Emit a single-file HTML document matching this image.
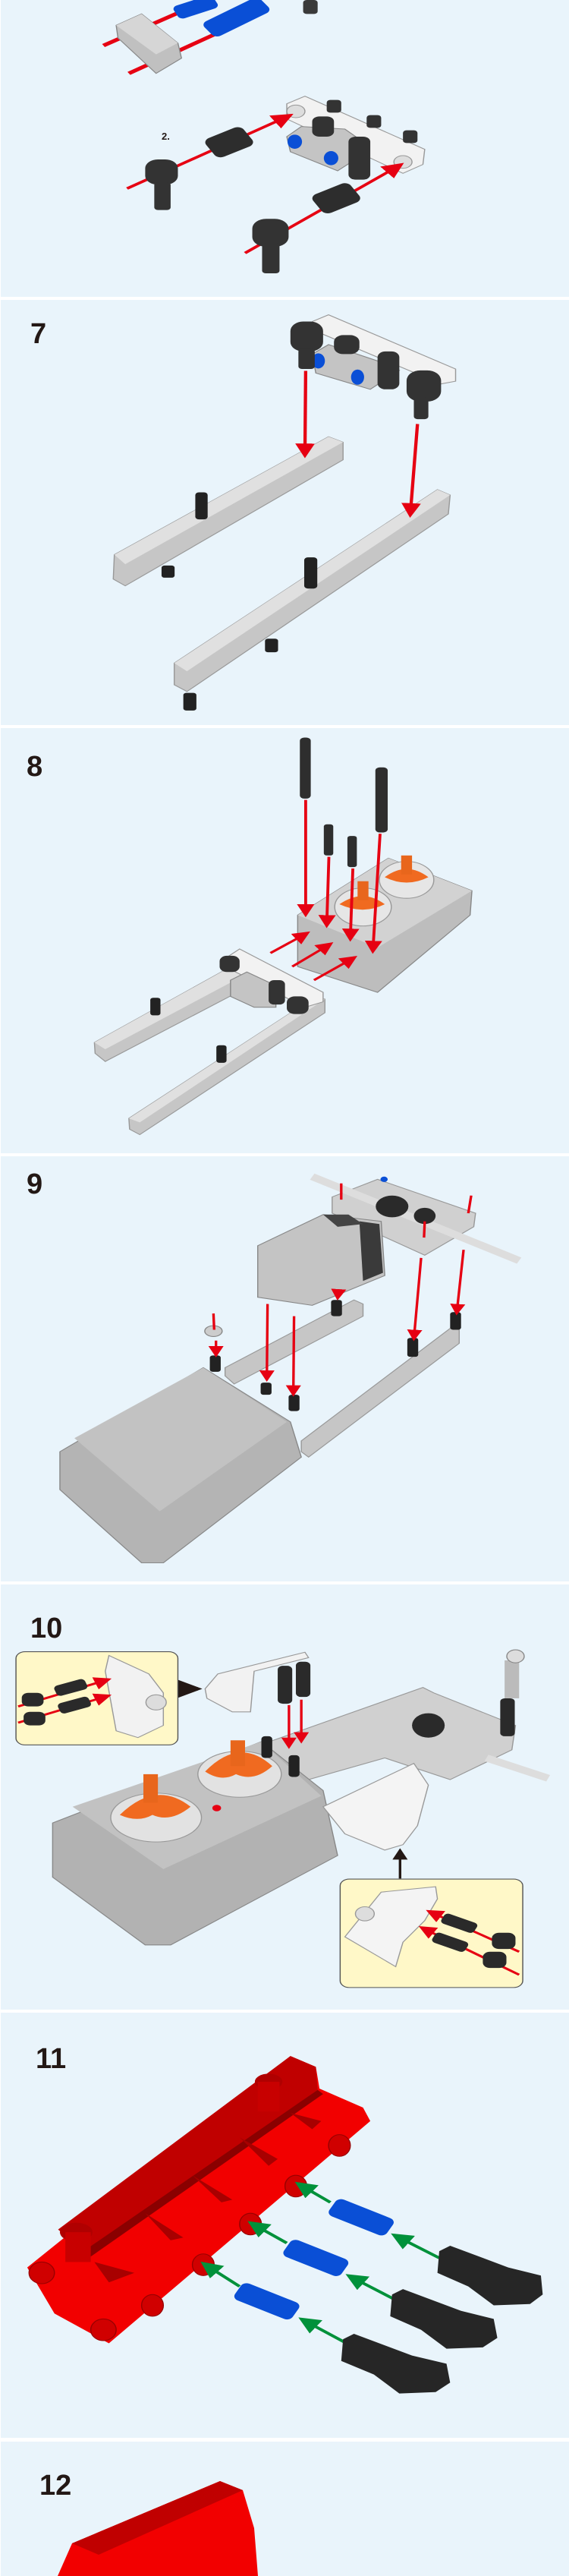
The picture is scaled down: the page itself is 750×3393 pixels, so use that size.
<!DOCTYPE html>
<html><head><meta charset="utf-8"><style>
html,body{margin:0;padding:0;background:#fff}
svg{display:block}
.n{font-family:"Liberation Sans",sans-serif;font-weight:bold;font-size:38px;fill:#231815}
</style></head><body>
<svg width="750" height="3393" viewBox="0 0 750 3393" xmlns="http://www.w3.org/2000/svg">
<defs>
<marker id="ar" markerWidth="6" markerHeight="6" refX="5" refY="3" orient="auto" markerUnits="strokeWidth"><path d="M0,0 L6,3 L0,6 z" fill="#e60012"/></marker>
<marker id="ag" markerWidth="6" markerHeight="6" refX="5" refY="3" orient="auto" markerUnits="strokeWidth"><path d="M0,0 L6,3 L0,6 z" fill="#00913a"/></marker>
<marker id="ak" markerWidth="6" markerHeight="6" refX="5" refY="3" orient="auto" markerUnits="strokeWidth"><path d="M0,0 L6,3 L0,6 z" fill="#231815"/></marker>
</defs>
<rect width="750" height="3393" fill="#fff"/>
<g fill="#e9f4fb">
<rect x="1" y="0" width="749" height="391"/>
<rect x="1" y="395" width="749" height="560"/>
<rect x="1" y="959" width="749" height="560"/>
<rect x="1" y="1523" width="749" height="560"/>
<rect x="1" y="2087" width="749" height="560"/>
<rect x="1" y="2651" width="749" height="560"/>
<rect x="1" y="3216" width="749" height="177"/>
</g>

<!-- Panel 1 -->
<g transform="translate(0,0) scale(0.4785,0.3333)">
<line x1="285" y1="180" x2="500" y2="45" stroke="#e60012" stroke-width="14"/>
<line x1="355" y1="290" x2="600" y2="130" stroke="#e60012" stroke-width="14"/>
<rect x="480" y="0" width="120" height="55" rx="15" fill="#0a4fd6" transform="rotate(-25 540 30)"/>
<rect x="565" y="30" width="190" height="70" rx="18" fill="#0a4fd6" transform="rotate(-35 660 80)"/>
<rect x="835" y="0" width="40" height="55" rx="10" fill="#3a3a3a"/>
<path d="M320,100 L390,55 L490,170 L500,230 L430,290 L325,150 z" fill="#c0c0c0" stroke="#888" stroke-width="3"/>
<path d="M320,100 L390,55 L490,170 L430,215 z" fill="#d6d6d6"/>
<path d="M790,410 L840,380 L1170,590 L1165,650 L1110,685 L790,470 z" fill="#f2f2f2" stroke="#999" stroke-width="3"/>
<circle cx="815" cy="440" r="25" fill="#ddd" stroke="#999" stroke-width="3"/>
<circle cx="1110" cy="640" r="25" fill="#ddd" stroke="#999" stroke-width="3"/>
<path d="M790,540 L830,500 L950,510 L1000,560 L990,620 L930,675 L800,600 z" fill="#c4c4c4" stroke="#888" stroke-width="3"/>
<ellipse cx="812" cy="560" rx="20" ry="28" fill="#0a4fd6"/>
<ellipse cx="912" cy="625" rx="20" ry="28" fill="#0a4fd6"/>
<rect x="960" y="540" width="60" height="170" rx="20" fill="#333"/>
<rect x="860" y="460" width="60" height="80" rx="20" fill="#333"/>
<rect x="900" y="395" width="40" height="50" rx="10" fill="#333"/>
<rect x="1010" y="455" width="40" height="50" rx="10" fill="#333"/>
<rect x="1110" y="515" width="40" height="50" rx="10" fill="#333"/>
<line x1="350" y1="745" x2="800" y2="455" stroke="#e60012" stroke-width="10" marker-end="url(#ar)"/>
<line x1="675" y1="1000" x2="1105" y2="650" stroke="#e60012" stroke-width="10" marker-end="url(#ar)"/>
<rect x="570" y="520" width="120" height="85" rx="20" fill="#2d2d2d" transform="rotate(-30 630 560)"/>
<rect x="870" y="740" width="120" height="85" rx="20" fill="#2d2d2d" transform="rotate(-30 930 790)"/>
<rect x="400" y="630" width="90" height="100" rx="35" fill="#333"/>
<rect x="425" y="720" width="45" height="110" rx="10" fill="#333"/>
<rect x="695" y="865" width="100" height="110" rx="38" fill="#333"/>
<rect x="722" y="960" width="48" height="120" rx="10" fill="#333"/>
</g>
<text x="213" y="184" style="font-family:'Liberation Sans',sans-serif;font-weight:bold;font-size:13px;fill:#231815">2.</text>

<!-- Panel 7 -->
<text class="n" x="40" y="452">7</text>
<g transform="translate(0,395) scale(0.4785,0.357)">
<path d="M315,940 L905,505 L945,525 L945,590 L345,1055 L312,1030 z" fill="#c6c6c6" stroke="#999" stroke-width="3"/>
<path d="M315,940 L905,505 L945,525 L345,975 z" fill="#e0e0e0"/>
<path d="M480,1340 L1205,700 L1240,720 L1235,790 L515,1445 L480,1420 z" fill="#c6c6c6" stroke="#999" stroke-width="3"/>
<path d="M480,1340 L1205,700 L1240,720 L515,1370 z" fill="#e0e0e0"/>
<rect x="538" y="710" width="34" height="100" rx="10" fill="#222"/>
<rect x="838" y="950" width="36" height="115" rx="10" fill="#222"/>
<rect x="445" y="980" width="36" height="45" rx="8" fill="#222"/>
<rect x="730" y="1250" width="36" height="50" rx="8" fill="#222"/>
<rect x="505" y="1450" width="36" height="65" rx="8" fill="#222"/>
<path d="M860,80 L905,55 L1255,255 L1255,300 L1215,310 L860,110 z" fill="#f2f2f2" stroke="#999" stroke-width="3"/>
<path d="M860,200 L905,165 L1040,225 L1100,260 L1020,330 L870,270 z" fill="#c4c4c4" stroke="#888" stroke-width="3"/>
<ellipse cx="877" cy="225" rx="18" ry="28" fill="#0a4fd6"/>
<ellipse cx="985" cy="285" rx="18" ry="28" fill="#0a4fd6"/>
<rect x="800" y="80" width="90" height="110" rx="35" fill="#333"/>
<rect x="822" y="180" width="45" height="75" rx="10" fill="#333"/>
<rect x="1120" y="260" width="95" height="115" rx="38" fill="#333"/>
<rect x="1140" y="360" width="40" height="80" rx="10" fill="#333"/>
<rect x="920" y="130" width="70" height="70" rx="25" fill="#333"/>
<rect x="1040" y="190" width="60" height="140" rx="22" fill="#333"/>
<line x1="842" y1="262" x2="840" y2="575" stroke="#e60012" stroke-width="9" marker-end="url(#ar)"/>
<line x1="1150" y1="458" x2="1130" y2="795" stroke="#e60012" stroke-width="9" marker-end="url(#ar)"/>
</g>

<!-- Panel 8 -->
<text class="n" x="35" y="1022">8</text>
<g transform="translate(0,959) scale(0.4785,0.357)">
<path d="M260,1160 L650,870 L690,900 L690,950 L290,1230 L262,1200 z" fill="#c6c6c6" stroke="#999" stroke-width="3"/>
<path d="M260,1160 L650,870 L690,900 L290,1185 z" fill="#e0e0e0"/>
<path d="M355,1440 L870,990 L895,1000 L895,1050 L385,1500 L357,1480 z" fill="#c6c6c6" stroke="#999" stroke-width="3"/>
<path d="M355,1440 L870,990 L895,1000 L385,1455 z" fill="#e0e0e0"/>
<path d="M820,690 L1070,480 L1300,600 L1295,690 L1040,975 L820,880 z" fill="#bdbdbd" stroke="#888" stroke-width="3"/>
<path d="M820,690 L1070,480 L1300,600 L1040,810 z" fill="#d2d2d2"/>
<ellipse cx="1000" cy="660" rx="78" ry="70" fill="#e6e6e6" stroke="#999" stroke-width="3"/>
<path d="M935,650 Q1000,590 1060,650 Q1000,690 935,650 z" fill="#f06a20"/>
<ellipse cx="1120" cy="560" rx="75" ry="68" fill="#e6e6e6" stroke="#999" stroke-width="3"/>
<path d="M1060,550 Q1120,490 1180,550 Q1120,590 1060,550 z" fill="#f06a20"/>
<rect x="985" y="565" width="30" height="70" fill="#e8661c"/>
<rect x="1105" y="470" width="30" height="70" fill="#e8661c"/>
<path d="M620,850 L660,815 L890,975 L890,1010 L840,1030 L620,880 z" fill="#f2f2f2" stroke="#999" stroke-width="3"/>
<path d="M635,930 L680,900 L760,950 L760,1030 L700,1030 L635,990 z" fill="#c4c4c4" stroke="#888" stroke-width="3"/>
<rect x="605" y="840" width="55" height="60" rx="20" fill="#333"/>
<rect x="790" y="990" width="60" height="65" rx="22" fill="#333"/>
<rect x="740" y="930" width="45" height="90" rx="15" fill="#333"/>
<rect x="826" y="35" width="30" height="225" rx="12" fill="#2e2e2e"/>
<rect x="1034" y="145" width="34" height="240" rx="12" fill="#2e2e2e"/>
<rect x="892" y="355" width="26" height="115" rx="8" fill="#2e2e2e"/>
<rect x="957" y="398" width="26" height="115" rx="8" fill="#2e2e2e"/>
<rect x="414" y="995" width="28" height="65" rx="8" fill="#222"/>
<rect x="596" y="1170" width="28" height="65" rx="8" fill="#222"/>
<line x1="842" y1="265" x2="842" y2="690" stroke="#e60012" stroke-width="8" marker-end="url(#ar)"/>
<line x1="906" y1="475" x2="900" y2="730" stroke="#e60012" stroke-width="8" marker-end="url(#ar)"/>
<line x1="972" y1="518" x2="965" y2="780" stroke="#e60012" stroke-width="8" marker-end="url(#ar)"/>
<line x1="1047" y1="390" x2="1027" y2="825" stroke="#e60012" stroke-width="8" marker-end="url(#ar)"/>
<line x1="745" y1="830" x2="848" y2="755" stroke="#e60012" stroke-width="8" marker-end="url(#ar)"/>
<line x1="805" y1="880" x2="912" y2="795" stroke="#e60012" stroke-width="8" marker-end="url(#ar)"/>
<line x1="865" y1="930" x2="978" y2="845" stroke="#e60012" stroke-width="8" marker-end="url(#ar)"/>
</g>

<!-- Panel 9 -->
<text class="n" x="35" y="1572">9</text>
<g transform="translate(0,1523) scale(0.4785,0.357)">
<path d="M620,780 L975,530 L1000,545 L1000,590 L645,840 L620,810 z" fill="#c6c6c6" stroke="#999" stroke-width="3"/>
<path d="M830,1050 L1245,630 L1265,640 L1265,690 L850,1110 L830,1090 z" fill="#c6c6c6" stroke="#999" stroke-width="3"/>
<path d="M165,1090 L560,780 L800,980 L830,1110 L450,1500 L390,1500 L165,1230 z" fill="#b4b4b4" stroke="#888" stroke-width="3"/>
<path d="M205,1040 L560,780 L790,980 L440,1310 z" fill="#c2c2c2"/>
<path d="M915,150 L1040,85 L1310,210 L1305,260 L1170,365 L915,210 z" fill="#d0d0d0" stroke="#999" stroke-width="3"/>
<line x1="860" y1="75" x2="1430" y2="385" stroke="#ddd" stroke-width="26"/>
<path d="M710,330 L890,215 L1050,240 L1060,440 L860,550 L710,520 z" fill="#c4c4c4" stroke="#888" stroke-width="3"/>
<path d="M990,240 L1045,250 L1055,430 L1000,460 z" fill="#3a3a3a"/>
<path d="M890,215 L960,215 L1000,250 L930,260 z" fill="#444"/>
<ellipse cx="1080" cy="185" rx="45" ry="40" fill="#2a2a2a"/>
<ellipse cx="1170" cy="220" rx="30" ry="30" fill="#2a2a2a"/>
<circle cx="1058" cy="85" r="10" fill="#0a4fd6"/>
<rect x="578" y="735" width="30" height="60" rx="8" fill="#222"/>
<rect x="718" y="835" width="30" height="45" rx="8" fill="#222"/>
<rect x="795" y="880" width="30" height="60" rx="8" fill="#222"/>
<rect x="912" y="530" width="30" height="60" rx="8" fill="#222"/>
<rect x="1122" y="670" width="30" height="70" rx="8" fill="#222"/>
<rect x="1240" y="575" width="30" height="65" rx="8" fill="#222"/>
<ellipse cx="588" cy="645" rx="24" ry="20" fill="#ccc" stroke="#888" stroke-width="3"/>
<g stroke="#e60012" stroke-width="7">
<line x1="588" y1="580" x2="590" y2="640"/>
<line x1="595" y1="680" x2="595" y2="735" marker-end="url(#ar)"/>
<line x1="737" y1="545" x2="735" y2="825" marker-end="url(#ar)"/>
<line x1="810" y1="590" x2="808" y2="880" marker-end="url(#ar)"/>
<line x1="1160" y1="375" x2="1140" y2="675" marker-end="url(#ar)"/>
<line x1="1277" y1="345" x2="1258" y2="580" marker-end="url(#ar)"/>
<line x1="940" y1="100" x2="940" y2="160"/>
<line x1="1298" y1="145" x2="1290" y2="210"/>
<line x1="1170" y1="240" x2="1168" y2="300"/>
<line x1="932" y1="500" x2="930" y2="525" marker-end="url(#ar)"/>
</g>
</g>

<!-- Panel 10 -->
<text class="n" x="40" y="2157">10</text>
<g transform="translate(0,2087) scale(0.4785,0.357)">
<path d="M700,600 L1165,380 L1195,400 L1420,520 L1410,610 L1240,720 L1060,640 L850,720 z" fill="#d0d0d0" stroke="#999" stroke-width="3"/>
<line x1="1340" y1="640" x2="1510" y2="715" stroke="#ddd" stroke-width="26"/>
<rect x="1390" y="280" width="40" height="140" fill="#bbb"/>
<rect x="1378" y="420" width="40" height="140" rx="12" fill="#2a2a2a"/>
<circle cx="1420" cy="265" r="24" fill="#ddd" stroke="#888" stroke-width="3"/>
<ellipse cx="1180" cy="520" rx="45" ry="45" fill="#2a2a2a"/>
<path d="M145,880 L720,580 L890,760 L930,1000 L470,1330 L400,1330 L145,1080 z" fill="#b2b2b2" stroke="#888" stroke-width="3"/>
<path d="M200,820 L720,580 L885,780 L450,1050 z" fill="#c2c2c2"/>
<ellipse cx="430" cy="860" rx="125" ry="90" fill="#e2e2e2" stroke="#999" stroke-width="3"/>
<path d="M330,850 Q430,720 525,820 Q470,880 420,850 Q380,880 330,850 z" fill="#f06a20"/>
<ellipse cx="660" cy="700" rx="115" ry="85" fill="#e2e2e2" stroke="#999" stroke-width="3"/>
<path d="M565,690 Q660,560 750,670 Q700,730 650,700 Q610,730 565,690 z" fill="#f06a20"/>
<rect x="635" y="575" width="40" height="95" fill="#e8661c"/>
<rect x="395" y="700" width="40" height="105" fill="#e8661c"/>
<circle cx="597" cy="825" r="12" fill="#e60012"/>
<path d="M890,820 L1140,660 L1180,740 L1150,890 L1110,960 L1060,980 L950,920 z" fill="#f4f4f4" stroke="#999" stroke-width="3"/>
<path d="M565,385 L600,330 L840,250 L850,270 L700,320 L690,470 L640,470 L570,420 z" fill="#f2f2f2" stroke="#999" stroke-width="3"/>
<rect x="765" y="300" width="40" height="140" rx="14" fill="#2a2a2a"/>
<rect x="815" y="285" width="40" height="130" rx="14" fill="#2a2a2a"/>
<rect x="720" y="560" width="30" height="80" rx="10" fill="#222"/>
<rect x="795" y="630" width="30" height="80" rx="10" fill="#222"/>
<line x1="796" y1="445" x2="796" y2="600" stroke="#e60012" stroke-width="7" marker-end="url(#ar)"/>
<line x1="830" y1="425" x2="830" y2="580" stroke="#e60012" stroke-width="7" marker-end="url(#ar)"/>
<line x1="495" y1="385" x2="545" y2="385" stroke="#231815" stroke-width="12" marker-end="url(#ak)"/>
<line x1="1102" y1="1085" x2="1102" y2="980" stroke="#231815" stroke-width="7" marker-end="url(#ak)"/>
<rect x="44" y="248" width="446" height="344" rx="25" fill="#fff8c8" stroke="#555" stroke-width="3"/>
<path d="M290,320 L300,262 L410,330 L450,400 L450,520 L380,565 L320,540 z" fill="#f2f2f2" stroke="#999" stroke-width="3"/>
<circle cx="430" cy="435" r="28" fill="#ddd" stroke="#999" stroke-width="3"/>
<line x1="50" y1="450" x2="300" y2="350" stroke="#e60012" stroke-width="8" marker-end="url(#ar)"/>
<line x1="50" y1="510" x2="300" y2="410" stroke="#e60012" stroke-width="8" marker-end="url(#ar)"/>
<rect x="150" y="360" width="90" height="40" rx="12" fill="#2a2a2a" transform="rotate(-20 195 380)"/>
<rect x="160" y="425" width="90" height="40" rx="12" fill="#2a2a2a" transform="rotate(-20 205 445)"/>
<rect x="60" y="400" width="60" height="50" rx="18" fill="#2a2a2a"/>
<rect x="65" y="470" width="60" height="50" rx="18" fill="#2a2a2a"/>
<rect x="937" y="1087" width="503" height="400" rx="25" fill="#fff8c8" stroke="#555" stroke-width="3"/>
<path d="M950,1300 L1050,1135 L1200,1115 L1205,1160 L1170,1240 L1110,1320 L1090,1410 z" fill="#f4f4f4" stroke="#999" stroke-width="3"/>
<circle cx="1005" cy="1215" r="26" fill="#ddd" stroke="#999" stroke-width="3"/>
<line x1="1430" y1="1355" x2="1180" y2="1205" stroke="#e60012" stroke-width="8" marker-end="url(#ar)"/>
<line x1="1430" y1="1440" x2="1160" y2="1265" stroke="#e60012" stroke-width="8" marker-end="url(#ar)"/>
<rect x="1215" y="1230" width="100" height="40" rx="12" fill="#2a2a2a" transform="rotate(25 1265 1250)"/>
<rect x="1190" y="1300" width="100" height="40" rx="12" fill="#2a2a2a" transform="rotate(25 1240 1320)"/>
<rect x="1355" y="1285" width="65" height="60" rx="20" fill="#2a2a2a"/>
<rect x="1330" y="1355" width="65" height="60" rx="20" fill="#2a2a2a"/>
</g>

<!-- Panel 11 -->
<text class="n" x="47" y="2724">11</text>
<g transform="translate(0,2651) scale(0.4785,0.357)">
<path d="M75,940 L800,160 L870,200 L880,280 L1000,350 L1020,400 L300,1220 L150,1110 z" fill="#f20000"/>
<path d="M160,800 L800,160 L870,200 L875,285 L230,880 z" fill="#c00000"/>
<path d="M230,880 L875,285 L890,300 L250,900 z" fill="#8a0000"/>
<ellipse cx="210" cy="810" rx="45" ry="35" fill="#b00000"/>
<rect x="180" y="810" width="70" height="110" fill="#c80000"/>
<ellipse cx="740" cy="255" rx="38" ry="30" fill="#b00000"/>
<rect x="710" y="255" width="60" height="110" fill="#c80000"/>
<g fill="#a80000">
<path d="M660,460 L765,540 L740,565 z"/><path d="M530,600 L640,690 L610,700 z"/><path d="M400,740 L505,830 L470,840 z"/><path d="M800,370 L885,400 L860,430 z"/><path d="M260,920 L370,960 L300,995 z"/>
</g>
<g fill="#d00000" stroke="#900" stroke-width="3">
<ellipse cx="935" cy="490" rx="30" ry="40"/><ellipse cx="815" cy="640" rx="30" ry="40"/><ellipse cx="690" cy="780" rx="30" ry="40"/><ellipse cx="560" cy="930" rx="30" ry="40"/><ellipse cx="420" cy="1080" rx="30" ry="40"/><ellipse cx="115" cy="960" rx="35" ry="40"/><ellipse cx="285" cy="1170" rx="35" ry="40"/>
</g>
<g stroke="#00913a" stroke-width="10">
<line x1="910" y1="700" x2="820" y2="630" marker-end="url(#ag)"/>
<line x1="790" y1="850" x2="690" y2="775" marker-end="url(#ag)"/>
<line x1="660" y1="1010" x2="560" y2="925" marker-end="url(#ag)"/>
<line x1="1210" y1="905" x2="1085" y2="820" marker-end="url(#ag)"/>
<line x1="1090" y1="1060" x2="960" y2="970" marker-end="url(#ag)"/>
<line x1="955" y1="1220" x2="830" y2="1130" marker-end="url(#ag)"/>
</g>
<g fill="#0a4fd6">
<rect x="905" y="720" width="180" height="70" rx="18" transform="rotate(28 995 755)"/>
<rect x="780" y="870" width="180" height="70" rx="18" transform="rotate(28 870 905)"/>
<rect x="645" y="1030" width="180" height="70" rx="18" transform="rotate(28 735 1065)"/>
</g>
<g fill="#262626">
<path d="M1210,880 L1240,860 L1400,940 L1490,970 L1495,1040 L1460,1075 L1360,1080 L1290,1010 L1205,960 z"/>
<path d="M1080,1040 L1110,1020 L1270,1100 L1360,1130 L1370,1200 L1330,1235 L1230,1240 L1160,1170 L1075,1120 z"/>
<path d="M945,1205 L975,1185 L1135,1265 L1230,1295 L1240,1365 L1200,1400 L1100,1405 L1030,1335 L940,1285 z"/>
</g>
</g>

<!-- Panel 12 -->
<text class="n" x="52" y="3286">12</text>
<path d="M76,3393 L95,3350 L290,3268 L320,3280 L335,3330 L340,3393 z" fill="#f20000"/>
<path d="M95,3350 L290,3268 L320,3280 L130,3365 z" fill="#c00000"/>
</svg>
</body></html>
